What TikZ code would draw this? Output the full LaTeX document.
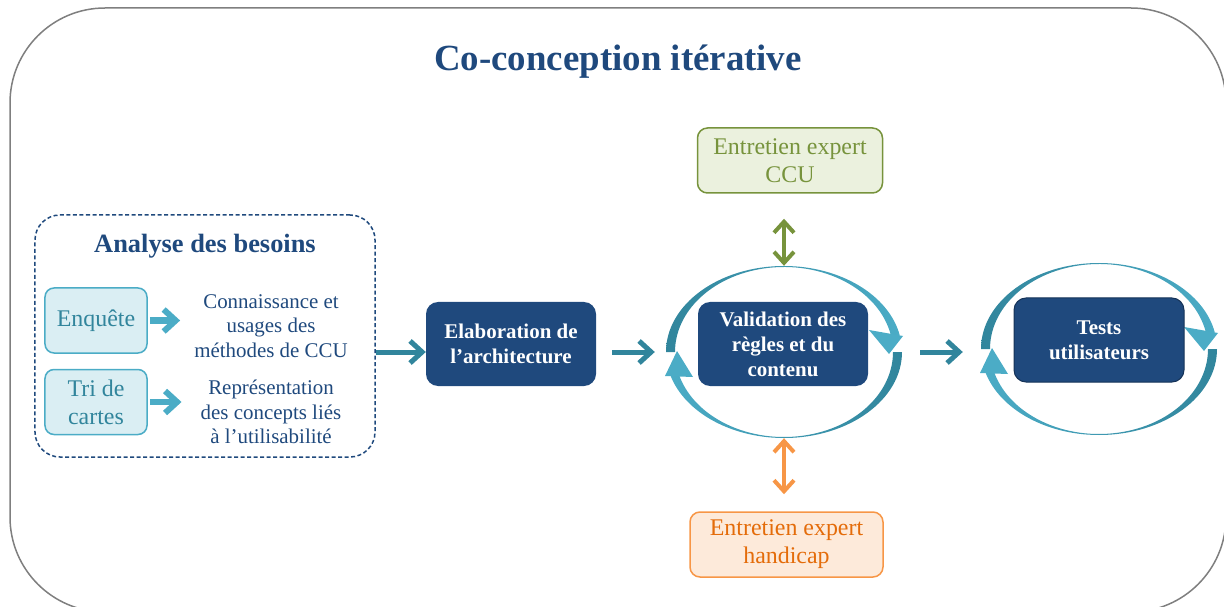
\documentclass[tikz,border=0pt]{standalone}
\usepackage{fontspec}
\setmainfont{Liberation Serif}
\usetikzlibrary{positioning, arrows.meta, shapes.geometric}

\definecolor{navy}{HTML}{1F497D}
\definecolor{tealdark}{HTML}{31859C}
\definecolor{teallight}{HTML}{4BACC6}
\definecolor{palecyan}{HTML}{DAEEF3}
\definecolor{olive}{HTML}{77933C}
\definecolor{palegreen}{HTML}{EBF1DE}
\definecolor{orangeline}{HTML}{F79646}
\definecolor{orangetext}{HTML}{E46C0A}
\definecolor{paleorange}{HTML}{FDEADA}
\definecolor{framegray}{HTML}{7F7F7F}

\begin{document}
\begin{tikzpicture}[
  x=1bp, y=-1bp,
  stage/.style={fill=navy, rounded corners=12bp, text=white, minimum width=170bp, minimum height=84bp,
    align=center, inner sep=0pt, font=\fontsize{21}{25}\selectfont\bfseries},
  method/.style={draw=teallight, line width=1.5bp, fill=palecyan, rounded corners=9bp, minimum width=102bp,
    minimum height=65bp, align=center, inner sep=0pt, text=tealdark, font=\fontsize{24}{28}\selectfont},
  note/.style={text=navy, align=center, inner sep=0pt, font=\fontsize{21}{24.5}\selectfont},
  expert/.style={line width=1.5bp, rounded corners=10bp, minimum height=65bp, align=center, inner sep=0pt,
    font=\fontsize{24}{28}\selectfont},
  cycle/.style={ellipse, minimum width=236bp, minimum height=172bp, inner sep=0pt},
  flow/.style={-{Straight Barb[length=12bp, width=22bp]}, line width=5bp, tealdark},
  minor/.style={-{Straight Barb[length=12bp, width=22bp]}, line width=6bp, teallight},
  both/.style={{Straight Barb[length=11bp, width=20bp]}-{Straight Barb[length=11bp, width=20bp]}, line width=4bp}
]
  \useasboundingbox (0,0) rectangle (1224,607);
  \clip (0,0) rectangle (1224,607);

  % Frame and title
  \draw[framegray, line width=1.5bp, rounded corners=95bp] (10,8) rectangle (1226,612);
  \node[text=navy, font=\fontsize{37}{42}\selectfont\bfseries] (title) at (618,62) {Co-conception itérative};

  % Analyse des besoins
  \node[draw=navy, line width=1.5bp, dash pattern=on 4bp off 2.5bp, rounded corners=25bp,
    minimum width=340bp, minimum height=242bp] (besoins) at (205,336) {};
  \node[text=navy, font=\fontsize{26.5}{30}\selectfont\bfseries] (besoinstitle) at (205,246) {Analyse des besoins};
  \node[method] (enquete) at (96,320.5) {Enquête};
  \node[method] (tri) at (96,402) {Tri de\\cartes};
  \node[note] (connaissance) at (271,326) {Connaissance et\\usages des\\méthodes de CCU};
  \node[note] (representation) at (271,412) {Représentation\\des concepts liés\\à l’utilisabilité};

  % Cycles
  \node[cycle] (cyc1) at (784,352) {};
  \node[cycle] (cyc2) at (1099,349) {};
  \foreach \cx/\cy in {784/352, 1099/349} {
    \shade[left color=tealdark, right color=teallight]
      ([shift={(\cx,\cy)}]180:118 and 86) arc[start angle=180, end angle=349, x radius=118, y radius=86]
      -- ([shift={(\cx,\cy)}]349:109 and 85) arc[start angle=349, end angle=180, x radius=109, y radius=85] -- cycle;
    \fill[teallight] (\cx+85,\cy-22) -- (\cx+119,\cy-16) -- (\cx+105,\cy+2) -- cycle;
    \shade[left color=teallight, right color=tealdark]
      ([shift={(\cx,\cy)}]0:118 and 86) arc[start angle=0, end angle=167, x radius=118, y radius=86]
      -- ([shift={(\cx,\cy)}]167:109 and 85) arc[start angle=167, end angle=0, x radius=109, y radius=85] -- cycle;
    \fill[teallight] (\cx-119,\cy+24) -- (\cx-91,\cy+25) -- (\cx-107,\cy-1) -- cycle;
  }

  % Stages
  \node[stage] (elab) at (511,344) {Elaboration de\\l’architecture};
  \node[stage] (valid) at (783,344) {Validation des\\règles et du\\contenu};
  \node[stage, draw=navy!70!black, line width=1bp] (tests) at (1099,340) {Tests\\utilisateurs};

  % Experts
  \node[expert, draw=olive, fill=palegreen, text=olive, minimum width=185bp] (ccu) at (790,160.5) {Entretien expert\\CCU};
  \node[expert, draw=orangeline, fill=paleorange, text=orangetext, minimum width=193bp] (handicap) at (786.5,544.5) {Entretien expert\\handicap};

  % Arrows
  \draw[minor, shorten <=2bp, shorten >=14bp] (enquete.east) -- (enquete.east -| connaissance.west);
  \draw[minor, shorten <=2bp, shorten >=19bp] (tri.east) -- (tri.east -| representation.west);
  \draw[flow] (besoins.east |- cyc1) -- (elab.west |- cyc1);
  \draw[flow, shorten <=16bp, shorten >=11bp] (elab.east |- cyc1) -- (cyc1.west);
  \draw[flow, shorten <=18bp, shorten >=18bp] (cyc1.east) -- (cyc2.west |- cyc1.east);
  \draw[both, olive, shorten <=25bp] (cyc1.north |- ccu.south) -- (cyc1.north);
  \draw[both, orangeline, shorten >=17bp] (cyc1.south) -- (cyc1.south |- handicap.north);
\end{tikzpicture}
\end{document}
